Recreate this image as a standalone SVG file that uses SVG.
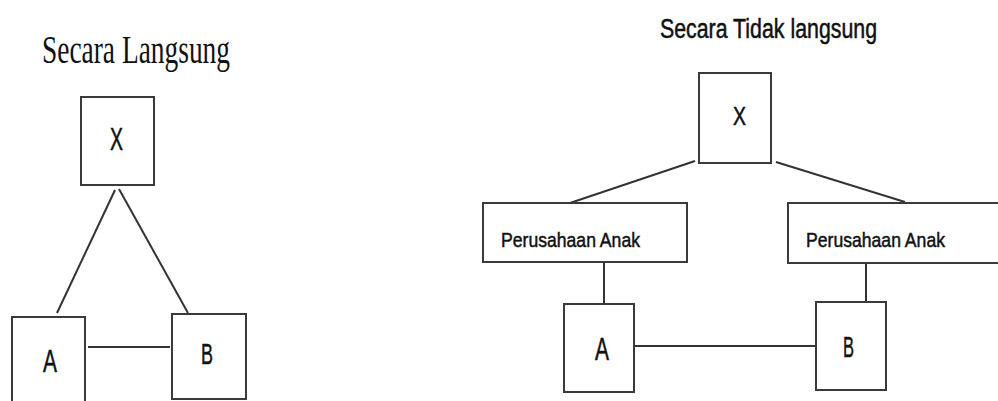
<svg xmlns="http://www.w3.org/2000/svg" width="998" height="401" viewBox="0 0 998 401">
<style>
.box{fill:#fff;stroke:#3a3a3a;stroke-width:2}
.ln{stroke:#333;stroke-width:2;fill:none}
.lbl{font-family:"Liberation Sans",Arial,sans-serif;fill:#111;stroke:#111;stroke-width:0.5}
.ttl{fill:#111}
</style>
<rect width="998" height="401" fill="#fff"/>
<text class="ttl" x="42" y="63" font-family="'Liberation Serif','Times New Roman',serif" font-size="40" textLength="188" lengthAdjust="spacingAndGlyphs">Secara Langsung</text>
<text class="lbl ttl" x="660" y="38" font-size="27" textLength="217" lengthAdjust="spacingAndGlyphs">Secara Tidak langsung</text>
<g id="connectors">
<line class="ln" x1="115" y1="190" x2="57" y2="313"/>
<line class="ln" x1="119" y1="189" x2="188" y2="313"/>
<line class="ln" x1="88" y1="347" x2="170" y2="347"/>
<line class="ln" x1="695" y1="161" x2="570" y2="203"/>
<line class="ln" x1="776" y1="162" x2="905" y2="202"/>
<line class="ln" x1="604" y1="262" x2="604" y2="304"/>
<line class="ln" x1="866" y1="263" x2="866" y2="302"/>
<line class="ln" x1="634" y1="346" x2="816" y2="346"/>
</g>
<g id="L_X"><rect class="box" x="81" y="97" width="73" height="88"/><text class="lbl" x="110" y="150" font-size="31" textLength="13" lengthAdjust="spacingAndGlyphs">X</text></g>
<g id="L_A"><rect class="box" x="12" y="317" width="73" height="90"/><text class="lbl" x="43" y="372" font-size="32" textLength="14" lengthAdjust="spacingAndGlyphs">A</text></g>
<g id="L_B"><rect class="box" x="172" y="314" width="74" height="85"/><text class="lbl" x="201" y="364" font-size="29" textLength="12" lengthAdjust="spacingAndGlyphs">B</text></g>
<g id="R_X"><rect class="box" x="699" y="73" width="72" height="90"/><text class="lbl" x="733" y="125" font-size="25" textLength="13" lengthAdjust="spacingAndGlyphs">X</text></g>
<g id="R_PA1"><rect class="box" x="483" y="203" width="204" height="59"/><text class="lbl" x="501" y="247" font-size="21" textLength="139" lengthAdjust="spacingAndGlyphs">Perusahaan Anak</text></g>
<g id="R_PA2"><rect class="box" x="788" y="203" width="220" height="60"/><text class="lbl" x="806" y="247" font-size="21" textLength="139" lengthAdjust="spacingAndGlyphs">Perusahaan Anak</text></g>
<g id="R_A"><rect class="box" x="564" y="304" width="70" height="88"/><text class="lbl" x="595" y="360" font-size="31" textLength="14" lengthAdjust="spacingAndGlyphs">A</text></g>
<g id="R_B"><rect class="box" x="816" y="302" width="70" height="88"/><text class="lbl" x="843" y="357" font-size="29" textLength="11" lengthAdjust="spacingAndGlyphs">B</text></g>
</svg>
